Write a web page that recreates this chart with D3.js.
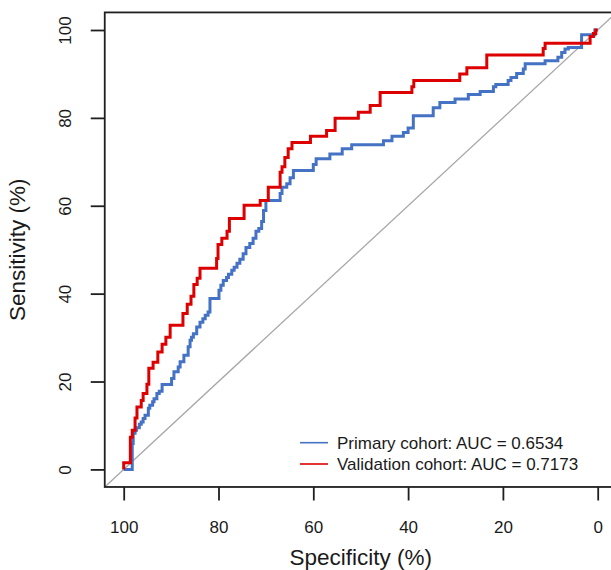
<!DOCTYPE html>
<html>
<head>
<meta charset="utf-8">
<script src="https://cdn.jsdelivr.net/npm/d3@7"></script>
<style>
  html, body { margin: 0; padding: 0; background: #fff; }
  svg { display: block; }
  text { font-family: "Liberation Sans", Arial, Helvetica, sans-serif; fill: #1a1a1a; }
</style>
</head>
<body>
<svg id="chart" width="611" height="570"></svg>
<script>
// ---- Data: ROC points (specificity %, sensitivity %) ----
const primarySpec = [100, 98.2, 98.0, 97.6, 97.3, 96.7, 96.3, 95.9, 95.5, 94.8, 94.5, 93.9, 93.6, 93.0, 92.5, 91.9, 89.9, 89.4, 88.5, 88.1, 87.3, 86.4, 86.0, 85.7, 85.3, 84.6, 83.9, 83.3, 82.8, 82.2, 81.8, 79.9, 79.5, 79.0, 78.3, 77.9, 77.2, 76.7, 76.1, 75.5, 74.8, 74.2, 73.4, 72.7, 72.1, 71.5, 70.9, 70.5, 70.0, 67.0, 66.6, 65.6, 64.9, 64.2, 60.0, 59.4, 56.5, 53.9, 51.9, 45.2, 43.4, 41.0, 40.0, 38.9, 34.7, 33.3, 30.1, 27.3, 24.8, 22.0, 21.5, 18.9, 18.3, 17.1, 15.7, 15.3, 11.1, 8.4, 7.6, 6.9, 6.2, 3.4, 0.6, 0];
const primarySens = [0, 5.9, 8.2, 8.9, 9.5, 10.3, 10.8, 11.6, 12.3, 13.9, 14.6, 15.4, 16.1, 17.3, 17.8, 19.3, 20.7, 22.2, 23.3, 24.5, 26.0, 27.9, 29.4, 30.1, 30.9, 32.4, 33.5, 34.3, 35.1, 35.8, 38.9, 40.8, 41.9, 43.0, 43.7, 44.4, 45.3, 46.0, 46.9, 47.8, 49.1, 50.5, 51.4, 52.6, 54.2, 54.8, 56.4, 58.9, 61.2, 62.8, 64.2, 65.0, 66.4, 68.0, 69.4, 70.7, 71.8, 73.0, 73.9, 74.8, 75.8, 76.7, 77.7, 80.5, 82.3, 83.5, 84.3, 85.3, 86.0, 87.1, 87.6, 88.5, 89.2, 90.1, 91.1, 92.3, 93.0, 93.8, 94.9, 95.7, 96.0, 98.9, 100, 100];

const validationSpec = [100, 100, 98.6, 98.2, 97.6, 97.2, 96.3, 95.9, 95.1, 94.7, 93.8, 92.8, 91.9, 91.1, 90.2, 87.5, 86.6, 85.8, 85.2, 84.5, 83.9, 80.4, 80.1, 79.3, 78.2, 77.7, 74.6, 71.2, 69.5, 67.0, 66.6, 66.0, 65.3, 64.5, 60.6, 57.2, 55.4, 50.5, 48.0, 45.9, 39.2, 38.8, 29.1, 27.6, 23.4, 11.5, 11.1, 1.6, 0.9, 0.4, 0];
const validationSens = [0, 1.5, 7.3, 8.9, 11.7, 14.2, 15.7, 17.3, 19.4, 23.0, 24.4, 26.7, 28.5, 30.1, 32.8, 35.5, 37.6, 39.4, 42.1, 43.5, 45.8, 48.0, 51.2, 52.6, 54.2, 57.1, 60.1, 61.2, 64.2, 67.6, 68.9, 71.0, 73.0, 74.4, 75.8, 77.1, 79.9, 81.3, 82.8, 85.8, 87.1, 88.5, 90.0, 91.4, 94.3, 95.8, 97.0, 98.5, 99.2, 100, 100];

const xTicks = [100, 80, 60, 40, 20, 0];
const yTicks = [0, 20, 40, 60, 80, 100];
const seriesNames = ["Primary cohort: AUC = 0.6534", "Validation cohort: AUC = 0.7173"];
const seriesColors = ["#4472c4", "#dd0000"];

// ---- Layout ----
const svg = d3.select("#chart");
const x = d3.scaleLinear().domain([100, 0]).range([123.7, 597.7]);
const y = d3.scaleLinear().domain([0, 100]).range([469.4, 30]);
const lim = [-4, 104]; // R's 4% axis extension

const pLeft = x(lim[1]), pRight = x(lim[0]);
const pTop = y(lim[1]), pBottom = y(lim[0]);

// diagonal reference line
svg.append("line")
  .attr("x1", x(lim[1])).attr("y1", y(lim[0]))
  .attr("x2", x(lim[0])).attr("y2", y(lim[1]))
  .attr("stroke", "#a8a8a8").attr("stroke-width", 1.3);

// curves
const line = d3.line().x(d => x(d[0])).y(d => y(d[1])).curve(d3.curveStepAfter);
const series = [
  d3.zip(primarySpec, primarySens),
  d3.zip(validationSpec, validationSens)
];
series.forEach((s, i) => {
  svg.append("path")
    .datum(s)
    .attr("d", line)
    .attr("fill", "none")
    .attr("stroke", seriesColors[i])
    .attr("stroke-width", 3)
    .attr("stroke-linejoin", "miter");
});

// box
svg.append("rect")
  .attr("x", pLeft).attr("y", pTop)
  .attr("width", pRight - pLeft).attr("height", pBottom - pTop)
  .attr("fill", "none").attr("stroke", "#1f1f1f").attr("stroke-width", 1.8);

// x axis
const xAxis = d3.axisBottom(x).tickValues(xTicks).tickSize(13.5).tickPadding(20).tickFormat(d3.format("d"));
const gx = svg.append("g").attr("transform", `translate(0,${pBottom})`).call(xAxis);
gx.select(".domain").remove();
gx.selectAll(".tick line").attr("stroke", "#1f1f1f").attr("stroke-width", 1.8);
gx.selectAll(".tick text").attr("font-size", 17).attr("fill", "#1a1a1a")
  .attr("font-family", "'Liberation Sans', Arial, sans-serif");

// y axis
const yAxis = d3.axisLeft(y).tickValues(yTicks).tickSize(14).tickFormat(d3.format("d"));
const gy = svg.append("g").attr("transform", `translate(${pLeft},0)`).call(yAxis);
gy.select(".domain").remove();
gy.selectAll(".tick line").attr("stroke", "#1f1f1f").attr("stroke-width", 1.8);
gy.selectAll(".tick text")
  .attr("x", null).attr("dy", null)
  .attr("transform", "translate(-34,0) rotate(-90)")
  .attr("text-anchor", "middle")
  .attr("font-size", 17).attr("fill", "#1a1a1a")
  .attr("font-family", "'Liberation Sans', Arial, sans-serif");

// axis titles
svg.append("text")
  .attr("x", (pLeft + pRight) / 2).attr("y", 565)
  .attr("text-anchor", "middle").attr("font-size", 22.5)
  .text("Specificity (%)");
svg.append("text")
  .attr("transform", `translate(25,${(pTop + pBottom) / 2}) rotate(-90)`)
  .attr("text-anchor", "middle").attr("font-size", 22.5)
  .text("Sensitivity (%)");

// legend
const legendY = [442.7, 464];
seriesNames.forEach((name, i) => {
  svg.append("line")
    .attr("x1", 300).attr("x2", 328)
    .attr("y1", legendY[i]).attr("y2", legendY[i])
    .attr("stroke", seriesColors[i]).attr("stroke-width", 1.6);
  svg.append("text")
    .attr("x", 337).attr("y", legendY[i] + 6)
    .attr("font-size", 17)
    .text(name);
});
</script>
</body>
</html>
